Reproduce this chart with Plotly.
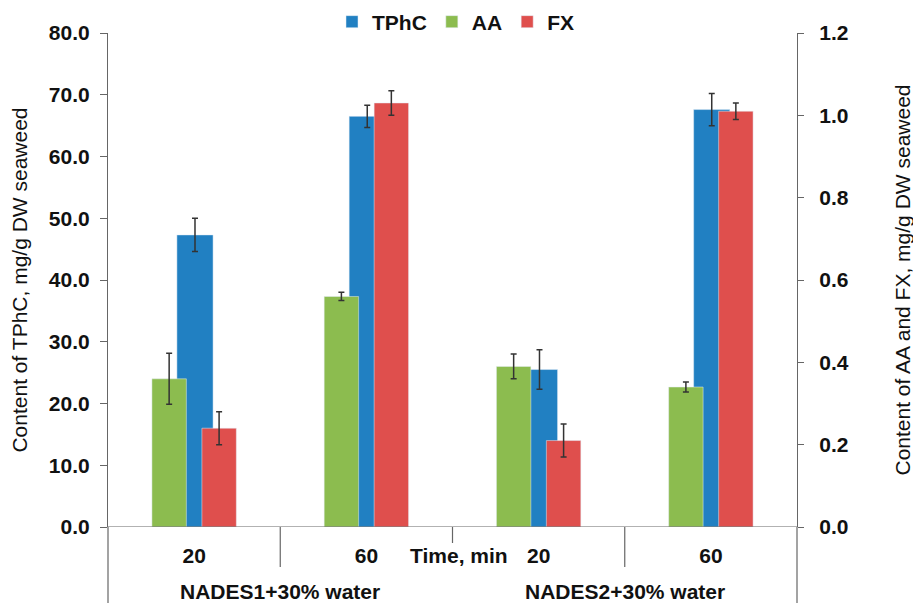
import plotly.graph_objects as go

# ---- data ----
groups = ["NADES1+30% water", "NADES2+30% water"]
times = ["20", "60", "20", "60"]
xpos = [0, 1, 2, 3]

tphc = [47.3, 66.5, 25.5, 67.6]
tphc_err = [2.7, 1.8, 3.2, 2.6]

aa = [0.36, 0.56, 0.39, 0.34]
aa_err = [0.062, 0.01, 0.03, 0.012]

fx = [0.24, 1.03, 0.21, 1.01]
fx_err = [0.04, 0.03, 0.04, 0.02]

left_ticks = [0, 10, 20, 30, 40, 50, 60, 70, 80]
right_ticks = [0, 0.2, 0.4, 0.6, 0.8, 1.0, 1.2]

# ---- style ----
BLUE = "#2180c2"
GREEN = "#8cbc4f"
RED = "#df4f4d"
FONT = "Liberation Sans, Arial, sans-serif"
AXIS = "#666666"
ERR = dict(type="data", visible=True, color="#333333", thickness=1.5, width=3)

# page has an 8px body margin, so the figure is sized to fill the rest
W, H = 913, 595
ML, MR, MT, MB = 100, 124, 25, 76
plot_w = W - ML - MR
plot_h = H - MT - MB

fig = go.Figure()
fig.add_trace(go.Bar(
    name="TPhC", x=xpos, y=tphc, marker_color=BLUE, width=0.21, offset=-0.1,
    error_y=dict(array=tphc_err, **ERR), yaxis="y",
))
fig.add_trace(go.Bar(
    name="AA", x=xpos, y=aa, marker_color=GREEN, width=0.2, offset=-0.245,
    error_y=dict(array=aa_err, **ERR), yaxis="y2",
))
fig.add_trace(go.Bar(
    name="FX", x=xpos, y=fx, marker_color=RED, width=0.2, offset=0.045,
    error_y=dict(array=fx_err, **ERR), yaxis="y2",
))

bold = dict(family=FONT, size=21, color="#111111", weight="bold")
title_font = dict(family=FONT, size=21, color="#111111")

fig.update_layout(
    width=W, height=H,
    margin=dict(l=ML, r=MR, t=MT, b=MB, autoexpand=False),
    paper_bgcolor="white", plot_bgcolor="white",
    barmode="overlay",
    showlegend=True,
    legend=dict(orientation="h", x=(456 - 108) / plot_w, xanchor="center", xref="paper",
                y=1 - 14 / H, yanchor="middle", yref="container",
                font=bold, itemwidth=30, bgcolor="rgba(0,0,0,0)", traceorder="normal"),
    xaxis=dict(
        range=[-0.5, 3.5], tickmode="array", tickvals=xpos, ticktext=times,
        ticks="", showgrid=False, zeroline=False, showline=False, automargin=False,
        tickfont=bold, ticklabelstandoff=14,
    ),
    yaxis=dict(
        range=[0, 80], tickmode="array", tickvals=left_ticks, tickformat=".1f",
        ticks="outside", ticklen=7, tickcolor=AXIS, showline=True, linecolor=AXIS,
        linewidth=1.2, showgrid=False, zeroline=False, tickfont=bold, automargin=False,
        ticklabelstandoff=6,
        title=dict(text="Content of TPhC, mg/g DW seaweed", font=title_font, standoff=16),
    ),
    yaxis2=dict(
        range=[0, 1.2], tickmode="array", tickvals=right_ticks, tickformat=".1f",
        overlaying="y", side="right", automargin=False,
        ticks="outside", ticklen=6, tickcolor=AXIS, showline=True, linecolor=AXIS,
        linewidth=1.2, showgrid=False, zeroline=False, tickfont=bold,
        ticklabelstandoff=11,
        title=dict(text="Content of AA and FX, mg/g DW seaweed", font=title_font, standoff=47),
    ),
)

# x-axis baseline and category frame lines
bottom = -MB / plot_h
shapes = [
    dict(type="line", xref="paper", yref="y", x0=0, x1=1, y0=0, y1=0,
         line=dict(color=AXIS, width=1.2)),
    dict(type="line", xref="paper", yref="paper", x0=0, x1=0, y0=0, y1=bottom,
         line=dict(color=AXIS, width=1.2)),
    dict(type="line", xref="paper", yref="paper", x0=1, x1=1, y0=0, y1=bottom,
         line=dict(color=AXIS, width=1.2)),
]
for xd, ln in [(0.5, 40), (1.5, 16), (2.5, 40)]:
    shapes.append(dict(type="line", xref="x", yref="paper", x0=xd, x1=xd, y0=0,
                       y1=-ln / plot_h, line=dict(color=AXIS, width=1.2)))
fig.update_layout(shapes=shapes)

annotations = [
    dict(text=groups[0], x=0.5, xref="x", y=-(591 - 527) / plot_h, yref="paper",
         showarrow=False, font=bold, yanchor="middle"),
    dict(text=groups[1], x=2.5, xref="x", y=-(591 - 527) / plot_h, yref="paper",
         showarrow=False, font=bold, yanchor="middle"),
    dict(text="Time, min", x=(459 - 108) / plot_w, xref="paper", y=-(555 - 527) / plot_h,
         yref="paper", showarrow=False, font=bold, yanchor="middle",
         bgcolor="rgba(0,0,0,0)"),
]
fig.update_layout(annotations=annotations)

fig.write_html("out.html")
